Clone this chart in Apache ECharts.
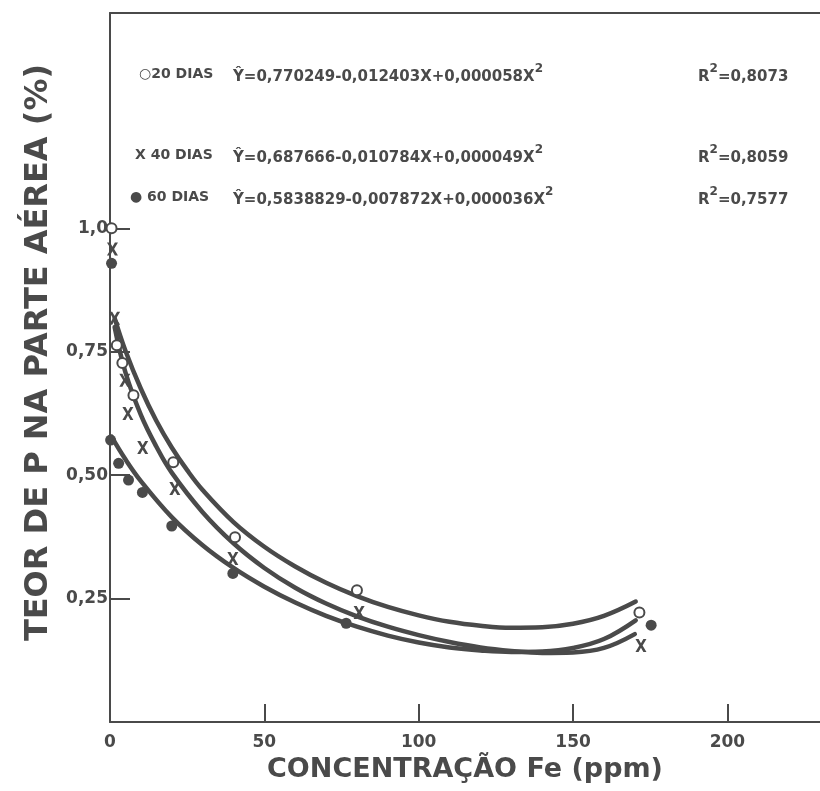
<!DOCTYPE html>
<html>
<head>
<meta charset="utf-8">
<script src="https://cdn.jsdelivr.net/npm/echarts@6/dist/echarts.min.js"></script>
<style>
  html, body { margin: 0; padding: 0; background: #ffffff; }
  #chart { width: 820px; height: 791px; }
</style>
</head>
<body>
<div id="chart"></div>
<script>
// Axis ticks
const feTicks = [0, 50, 100, 150, 200];
const pTicks = [0.25, 0.5, 0.75, 1.0];
const pTickLabels = ['0,25', '0,50', '0,75', '1,0'];

// Observed P content (%) by Fe concentration (ppm), per sampling age
const fe20 = [0.5, 2.2, 4.0, 7.6, 20.5, 40.5, 80.0, 171.5];
const p20  = [1.00, 0.763, 0.727, 0.662, 0.526, 0.374, 0.267, 0.222];

const fe40 = [0.8, 1.5, 4.8, 5.8, 10.6, 21.0, 39.8, 80.7, 172.0];
const p40  = [0.958, 0.818, 0.692, 0.625, 0.556, 0.473, 0.331, 0.222, 0.155];

const fe60 = [0.5, 0.2, 2.8, 6.0, 10.5, 20.0, 39.8, 76.5, 175.3];
const p60  = [0.929, 0.571, 0.524, 0.490, 0.465, 0.397, 0.301, 0.200, 0.196];

// Fitted regression curves as traced on the plot
const fit20Fe = [1.5, 5, 10, 15, 20, 25, 30, 40, 50, 60, 70, 80, 90, 100, 110, 120, 130, 140, 150, 160, 170.3];
const fit20P  = [0.818, 0.752, 0.675, 0.610, 0.556, 0.510, 0.470, 0.405, 0.355, 0.315, 0.282, 0.255, 0.233, 0.216, 0.203, 0.195, 0.191, 0.192, 0.199, 0.215, 0.244];

const fit40Fe = [1.5, 5, 10, 15, 20, 30, 40, 50, 60, 70, 80, 90, 100, 110, 120, 130, 140, 150, 160, 170];
const fit40P  = [0.800, 0.708, 0.622, 0.558, 0.505, 0.425, 0.362, 0.312, 0.272, 0.240, 0.214, 0.193, 0.176, 0.162, 0.151, 0.144, 0.140, 0.141, 0.150, 0.178];

const fit60Fe = [0.5, 5, 10, 20, 30, 40, 50, 60, 70, 80, 90, 100, 110, 120, 130, 140, 150, 160, 170.3];
const fit60P  = [0.578, 0.532, 0.488, 0.415, 0.358, 0.312, 0.274, 0.242, 0.215, 0.193, 0.175, 0.161, 0.151, 0.145, 0.142, 0.143, 0.150, 0.168, 0.206];

// Legend rows
const ageLabels = ['20 DIAS', '40 DIAS', '60 DIAS'];
const ageMarks = ['○', 'X', '●'];
const equations = [
  'Ŷ=0,770249-0,012403X+0,000058X',
  'Ŷ=0,687666-0,010784X+0,000049X',
  'Ŷ=0,5838829-0,007872X+0,000036X'
];
const r2Values = ['0,8073', '0,8059', '0,7577'];

const INK = '#4a4a4a';
const FONT = '"DejaVu Sans", "Liberation Sans", sans-serif';
const zip = (xs, ys) => xs.map((x, i) => [x, ys[i]]);

const crossPath = 'path://M0,0 L2.8,0 L5,4 L7.2,0 L10,0 L6.5,6 L10,12 L7.2,12 L5,8 L2.8,12 L0,12 L3.5,6 Z';

const chart = echarts.init(document.getElementById('chart'), null, { renderer: 'canvas' });

function curveSeries(name, xs, ys) {
  return {
    name: name, type: 'line', data: zip(xs, ys), smooth: 0.4,
    showSymbol: false, silent: true,
    lineStyle: { color: INK, width: 4.5, cap: 'round' }, z: 2
  };
}

// Legend rows positioned inside the plot area
const rowY = [74, 155, 197];
const markX = [139, 135, 130];
const supRich = {
  m: { font: 'bold 15px ' + FONT, fill: INK, lineHeight: 22, verticalAlign: 'bottom' },
  s: { font: 'bold 12px ' + FONT, fill: INK, lineHeight: 22, verticalAlign: 'top' }
};
const legendGraphics = [];
ageLabels.forEach((lab, i) => {
  legendGraphics.push({
    type: 'text', x: markX[i], y: rowY[i],
    style: { text: ageMarks[i] + (i === 0 ? '' : ' ') + lab, font: 'bold 14px ' + FONT, fill: INK, textVerticalAlign: 'middle' }
  });
  legendGraphics.push({
    type: 'text', x: 233, y: rowY[i],
    style: { text: '{m|' + equations[i] + '}{s|2}', fill: INK, textVerticalAlign: 'middle', rich: supRich }
  });
  legendGraphics.push({
    type: 'text', x: 698, y: rowY[i],
    style: { text: '{m|R}{s|2}{m|=' + r2Values[i] + '}', fill: INK, textVerticalAlign: 'middle', rich: supRich }
  });
});

const option = {
  animation: false,
  backgroundColor: '#ffffff',
  grid: { left: 110, top: 13, width: 712, height: 709, show: false },
  xAxis: [{
    type: 'value', min: 0, max: 230, interval: 50,
    name: 'CONCENTRAÇÃO Fe (ppm)', nameLocation: 'middle', nameGap: 34,
    nameTextStyle: { fontFamily: FONT, fontWeight: 'bold', fontSize: 27, color: INK },
    axisLine: { show: true, lineStyle: { color: INK, width: 2 } },
    axisTick: { show: true, inside: true, length: 18, customValues: feTicks, lineStyle: { color: INK, width: 2 } },
    axisLabel: { customValues: feTicks, margin: 12, fontFamily: FONT, fontWeight: 'bold', fontSize: 17, color: INK },
    splitLine: { show: false }
  }, {
    type: 'value', position: 'top', min: 0, max: 230,
    axisLine: { show: true, lineStyle: { color: INK, width: 2 } },
    axisTick: { show: false }, axisLabel: { show: false }, splitLine: { show: false }
  }],
  yAxis: {
    type: 'value', min: 0, max: 1.436, interval: 0.25,
    name: 'TEOR DE P NA PARTE AÉREA (%)', nameLocation: 'middle', nameGap: 46, nameRotate: 90,
    nameTextStyle: { fontFamily: FONT, fontWeight: 'bold', fontSize: 32, color: INK, padding: [0, 0, 0, 30] },
    axisLine: { show: true, lineStyle: { color: INK, width: 2 } },
    axisTick: { show: true, inside: true, length: 20, customValues: pTicks, lineStyle: { color: INK, width: 2 } },
    axisLabel: {
      customValues: pTicks, margin: 2, fontFamily: FONT, fontWeight: 'bold', fontSize: 17, color: INK,
      formatter: v => { const k = pTicks.findIndex(t => Math.abs(t - v) < 1e-6); return k >= 0 ? pTickLabels[k] : ''; }
    },
    splitLine: { show: false }
  },
  graphic: legendGraphics,
  series: [
    curveSeries('ajuste 20 dias', fit20Fe, fit20P),
    curveSeries('ajuste 40 dias', fit40Fe, fit40P),
    curveSeries('ajuste 60 dias', fit60Fe, fit60P),
    {
      name: '20 DIAS', type: 'scatter', data: zip(fe20, p20), symbol: 'emptyCircle', symbolSize: 10,
      itemStyle: { color: INK, borderColor: INK, borderWidth: 2, opacity: 1 }, z: 4
    },
    {
      name: '40 DIAS', type: 'scatter', data: zip(fe40, p40), symbol: crossPath, symbolSize: [11, 13],
      itemStyle: { color: INK, opacity: 1 }, z: 4
    },
    {
      name: '60 DIAS', type: 'scatter', data: zip(fe60, p60), symbol: 'circle', symbolSize: 11,
      itemStyle: { color: INK, opacity: 1 }, z: 4
    }
  ]
};

chart.setOption(option);
</script>
</body>
</html>
